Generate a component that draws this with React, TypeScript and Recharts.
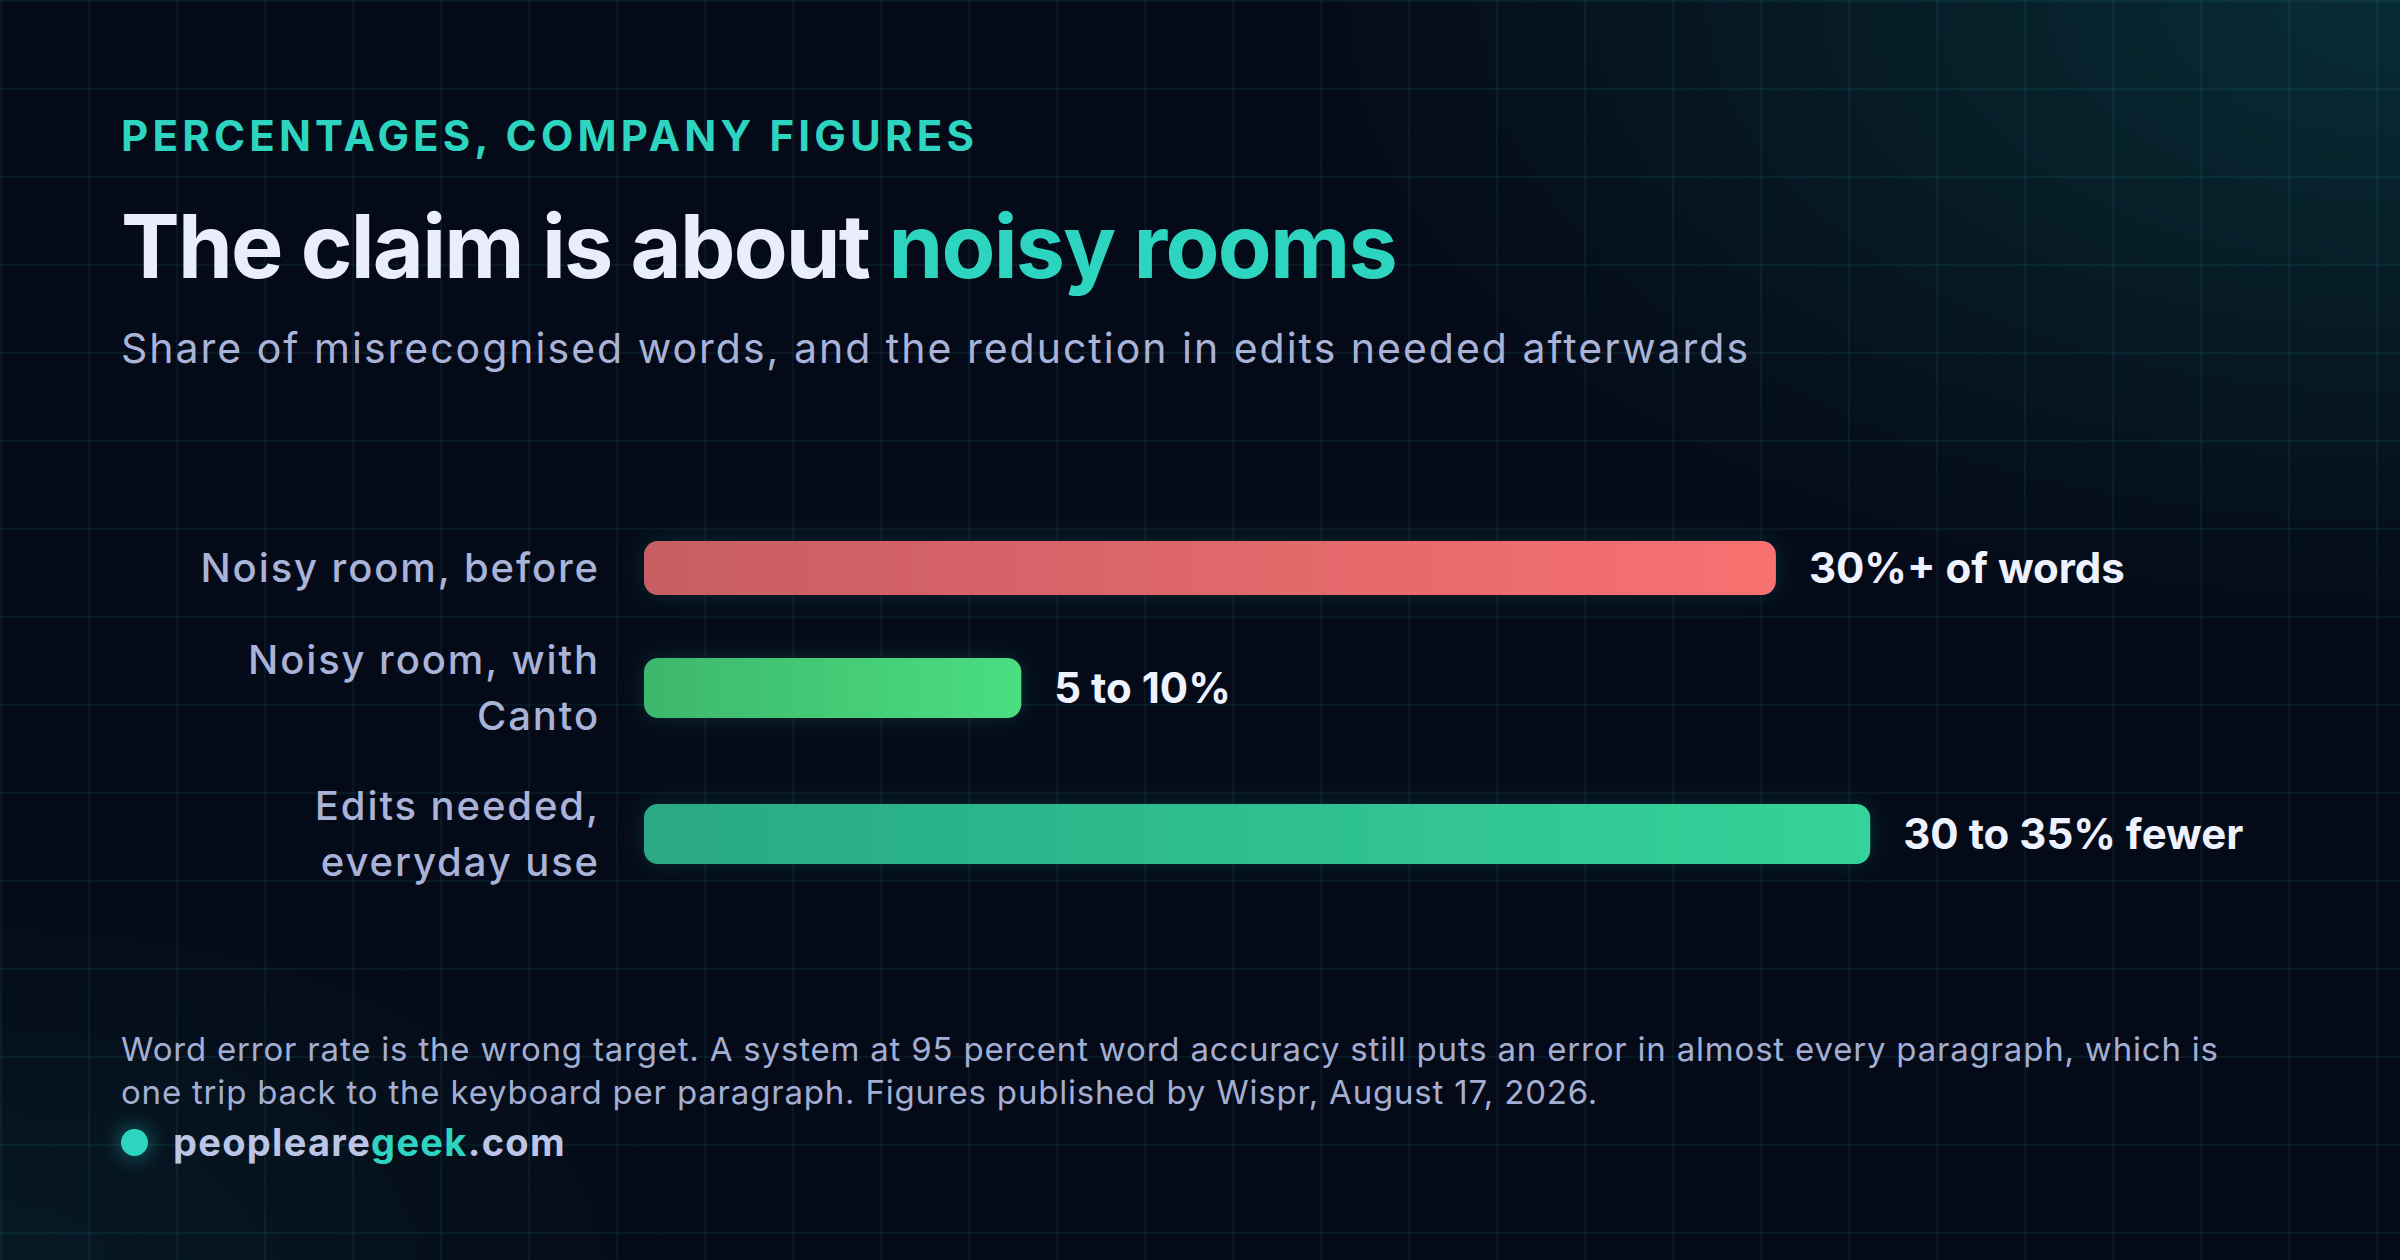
import React from 'react';
import { BarChart, Bar, XAxis, YAxis, LabelList, Rectangle } from 'recharts';

// chart data
const categories = ['Noisy room, before', 'Noisy room, with Canto', 'Edits needed, everyday use'];
const categoryLines = [['Noisy room, before'], ['Noisy room, with', 'Canto'], ['Edits needed,', 'everyday use']];
const values = [30, 10, 32.5];
const valueLabels = ['30%+ of words', '5 to 10%', '30 to 35% fewer'];

// styling
const barGradients = [
  ['#c75d63', '#f87171'],
  ['#3db76b', '#4ade80'],
  ['#29a985', '#34d399'],
];
const TEAL = '#2dd4bf';
const FONT = 'Inter, "Noto Sans", sans-serif';
const BAR_H = 60;
const LINE_H = 56;
const ROW_GAP = 34;
const domainMax = Math.max(...values) / 0.75;

const CategoryTick = (props: any) => {
  const { x, y, payload } = props;
  const idx = categories.indexOf(payload.value);
  const lines = categoryLines[idx] || [payload.value];
  const n = lines.length;
  return (
    <text
      x={x}
      y={y}
      textAnchor="end"
      fill="#a9b3d8"
      fontSize={40}
      fontWeight={500}
      fontFamily={FONT}
      letterSpacing={1.9}
    >
      {lines.map((l, k) => (
        <tspan key={k} x={x} y={y + (k - (n - 1) / 2) * LINE_H} dy="0.36em">
          {l}
        </tspan>
      ))}
    </text>
  );
};

const GlowBar = (props: any) => (
  <g filter="url(#barGlow)">
    <Rectangle {...props} />
  </g>
);

const Row = ({ i }: { i: number }) => {
  const data = [{ name: categories[i], value: values[i], label: valueLabels[i] }];
  const h = Math.max(BAR_H, categoryLines[i].length * LINE_H);
  return (
    <BarChart
      width={2158}
      height={h}
      data={data}
      layout="vertical"
      margin={{ top: 0, right: 0, bottom: 0, left: 0 }}
      barCategoryGap={0}
    >
      <defs>
        <linearGradient id={`grad${i}`} x1="0" y1="0" x2="1" y2="0">
          <stop offset="0%" stopColor={barGradients[i][0]} />
          <stop offset="100%" stopColor={barGradients[i][1]} />
        </linearGradient>
        <filter id="barGlow" x="-10%" y="-80%" width="120%" height="260%">
          <feDropShadow dx="0" dy="0" stdDeviation="12" floodColor={TEAL} floodOpacity="0.16" />
        </filter>
      </defs>
      <XAxis type="number" hide domain={[0, domainMax]} />
      <YAxis
        type="category"
        dataKey="name"
        width={523}
        axisLine={false}
        tickLine={false}
        tickSize={0}
        tickMargin={44}
        interval={0}
        tick={<CategoryTick />}
      />
      <Bar
        dataKey="value"
        barSize={BAR_H}
        radius={14}
        fill={`url(#grad${i})`}
        shape={<GlowBar />}
        isAnimationActive={false}
      >
        <LabelList
          dataKey="label"
          position="right"
          offset={33}
          fill="#eef2ff"
          style={{ fontSize: 42, fontWeight: 700, fontFamily: FONT }}
        />
      </Bar>
    </BarChart>
  );
};

export default function App() {
  const gridLine = 'rgba(45,212,191,0.07)';
  return (
    <div
      style={{
        position: 'absolute',
        left: 0,
        top: 0,
        width: 2400,
        height: 1260,
        overflow: 'hidden',
        fontFamily: FONT,
        background: `linear-gradient(${gridLine} 2px, transparent 2px) 0 0 / 88px 88px,
          linear-gradient(90deg, ${gridLine} 2px, transparent 2px) 0 0 / 88px 88px,
          radial-gradient(ellipse 1500px 850px at 100% 0%, rgba(20,184,166,0.2), rgba(20,184,166,0) 75%),
          radial-gradient(ellipse 1000px 550px at 0% 100%, rgba(20,184,166,0.09), rgba(20,184,166,0) 70%),
          #050a18`,
      }}
    >
      <style>{`.recharts-surface { overflow: visible; }`}</style>
      <div
        style={{
          position: 'absolute',
          left: 121,
          top: 115,
          fontSize: 42,
          lineHeight: '42px',
          fontWeight: 700,
          letterSpacing: '0.1em',
          color: TEAL,
          whiteSpace: 'nowrap',
        }}
      >
        PERCENTAGES, COMPANY FIGURES
      </div>
      <div
        style={{
          position: 'absolute',
          left: 121,
          top: 202,
          fontSize: 88,
          lineHeight: '88px',
          fontWeight: 700,
          letterSpacing: '-0.02em',
          color: '#eaeefa',
          whiteSpace: 'nowrap',
        }}
      >
        The claim is about <span style={{ color: TEAL }}>noisy rooms</span>
      </div>
      <div
        style={{
          position: 'absolute',
          left: 121,
          top: 328,
          fontSize: 41,
          lineHeight: '41px',
          letterSpacing: 2,
          color: '#a9b3d8',
          whiteSpace: 'nowrap',
        }}
      >
        Share of misrecognised words, and the reduction in edits needed afterwards
      </div>

      <div
        style={{
          position: 'absolute',
          left: 121,
          top: 538,
          display: 'flex',
          flexDirection: 'column',
          gap: ROW_GAP,
        }}
      >
        {categories.map((_, i) => (
          <Row key={i} i={i} />
        ))}
      </div>

      <div
        style={{
          position: 'absolute',
          left: 121,
          top: 1028,
          fontSize: 33,
          lineHeight: '43px',
          letterSpacing: 0.8,
          color: '#a3aed3',
          whiteSpace: 'nowrap',
        }}
      >
        Word error rate is the wrong target. A system at 95 percent word accuracy still puts an error in almost every paragraph, which is
        <br />
        one trip back to the keyboard per paragraph. Figures published by Wispr, August 17, 2026.
      </div>

      <div
        style={{
          position: 'absolute',
          left: 121,
          top: 1129,
          width: 27,
          height: 27,
          borderRadius: '50%',
          background: TEAL,
          boxShadow: '0 0 22px rgba(45,212,191,0.55)',
        }}
      />
      <div
        style={{
          position: 'absolute',
          left: 173,
          top: 1123,
          fontSize: 38,
          lineHeight: '38px',
          fontWeight: 700,
          letterSpacing: 1.3,
          color: '#bcc5e6',
          whiteSpace: 'nowrap',
        }}
      >
        peopleare<span style={{ color: TEAL }}>geek</span>.com
      </div>
    </div>
  );
}
